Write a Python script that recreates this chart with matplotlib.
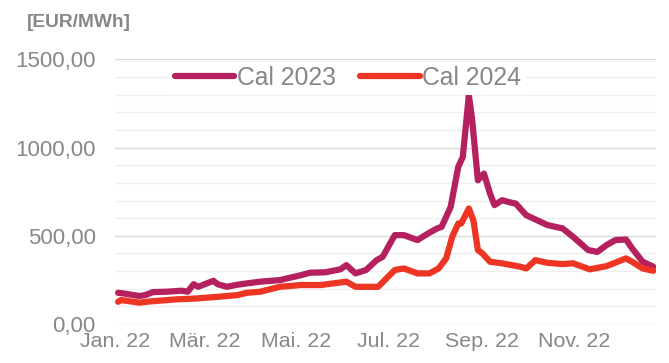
"""Strom-Terminpreise Cal 2023 / Cal 2024 im Verlauf von 2022."""

import matplotlib

matplotlib.use("Agg")
import matplotlib.dates as mdates
import matplotlib.pyplot as plt
import numpy as np
import pandas as pd
from matplotlib.ticker import FixedLocator, FuncFormatter

CAL23_DATES = [
    "2022-01-03", "2022-01-06", "2022-01-17", "2022-01-21", "2022-01-26",
    "2022-02-04", "2022-02-14", "2022-02-18", "2022-02-22", "2022-02-25",
    "2022-03-07", "2022-03-10", "2022-03-16", "2022-03-23", "2022-03-29",
    "2022-04-07", "2022-04-20", "2022-05-04", "2022-05-10", "2022-05-20",
    "2022-05-30", "2022-06-03", "2022-06-09", "2022-06-16", "2022-06-23",
    "2022-06-27", "2022-07-05", "2022-07-11", "2022-07-20", "2022-07-27",
    "2022-08-02", "2022-08-05", "2022-08-11", "2022-08-16", "2022-08-19",
    "2022-08-23", "2022-08-25", "2022-08-29", "2022-09-02", "2022-09-06",
    "2022-09-09", "2022-09-14", "2022-09-19", "2022-09-23", "2022-09-30",
    "2022-10-07", "2022-10-14", "2022-10-24", "2022-10-31", "2022-11-10",
    "2022-11-16", "2022-11-22", "2022-11-28", "2022-12-05", "2022-12-09",
    "2022-12-16", "2022-12-23",
]
CAL23_VALUES = [
    177, 174, 159, 164, 181,
    183, 189, 183, 226, 211,
    245, 225, 211, 223, 230,
    240, 249, 277, 291, 293,
    310, 334, 287, 306, 362,
    381, 504, 504, 476, 513,
    542, 551, 664, 891, 947,
    1297, 1174, 815, 853, 740,
    674, 702, 690, 683, 617,
    589, 561, 542, 494, 419,
    409, 447, 476, 479, 429,
    353, 325,
]

CAL24_DATES = [
    "2022-01-03", "2022-01-05", "2022-01-17", "2022-01-24", "2022-02-11",
    "2022-02-24", "2022-03-11", "2022-03-23", "2022-03-29", "2022-04-07",
    "2022-04-20", "2022-05-04", "2022-05-17", "2022-06-03", "2022-06-09",
    "2022-06-20", "2022-06-24", "2022-07-05", "2022-07-11", "2022-07-20",
    "2022-07-28", "2022-08-03", "2022-08-08", "2022-08-12", "2022-08-16",
    "2022-08-18", "2022-08-23", "2022-08-26", "2022-08-29", "2022-09-01",
    "2022-09-06", "2022-09-14", "2022-09-26", "2022-09-30", "2022-10-06",
    "2022-10-14", "2022-10-24", "2022-10-31", "2022-11-11", "2022-11-22",
    "2022-12-05", "2022-12-09", "2022-12-16", "2022-12-23",
]
CAL24_VALUES = [
    126, 136, 121, 128, 140,
    145, 155, 164, 177, 183,
    211, 221, 221, 240, 211,
    211, 211, 306, 315, 287,
    287, 315, 372, 494, 570,
    570, 655, 589, 419, 400,
    353, 344, 325, 315, 362,
    347, 340, 344, 310, 328,
    372, 353, 315, 302,
]

TICK_MONTHS = ["2022-01-01", "2022-03-01", "2022-05-01", "2022-07-01", "2022-09-01", "2022-11-01"]
TICK_LABELS = ["Jan. 22", "Mär. 22", "Mai. 22", "Jul. 22", "Sep. 22", "Nov. 22"]
SERIES_NAMES = ["Cal 2023", "Cal 2024"]

GREY = "#878787"
C23 = "#b5215e"
C24 = "#ee3524"

plt.rcParams["font.family"] = ["Liberation Sans", "DejaVu Sans"]

fig = plt.figure(figsize=(6.69, 3.63), dpi=100)
ax = fig.add_axes([0.172, 0.1074, 0.809, 0.7288])

ax.plot(pd.to_datetime(CAL23_DATES), CAL23_VALUES, color=C23, lw=4.5,
        solid_joinstyle="round", solid_capstyle="round", label=SERIES_NAMES[0], zorder=3)
ax.plot(pd.to_datetime(CAL24_DATES), CAL24_VALUES, color=C24, lw=4.5,
        solid_joinstyle="round", solid_capstyle="round", label=SERIES_NAMES[1], zorder=3)

ax.set_xlim(pd.Timestamp("2022-01-01"), pd.Timestamp("2022-12-25"))
ax.set_ylim(0, 1500)

ax.xaxis.set_major_locator(FixedLocator(mdates.date2num(pd.to_datetime(TICK_MONTHS))))
ax.set_xticklabels(TICK_LABELS)
ax.set_yticks(np.arange(0, 1501, 500))
ax.set_yticks(np.arange(0, 1501, 100), minor=True)
ax.yaxis.set_major_formatter(FuncFormatter(lambda v, _: f"{v:.2f}".replace(".", ",")))

ax.grid(axis="y", which="major", color="#d9d9d9", lw=1.0, zorder=0)
ax.grid(axis="y", which="minor", color="#efefef", lw=1.0, zorder=0)
ax.tick_params(axis="y", which="both", length=0, labelsize=16, labelcolor=GREY, pad=14)
ax.tick_params(axis="x", which="both", length=0, labelsize=15.4, labelcolor=GREY, pad=6)
for spine in ax.spines.values():
    spine.set_visible(False)

fig.text(0.04, 0.937, "[EUR/MWh]", fontsize=13.8, fontweight="bold", color=GREY,
         ha="left", va="center")

leg = ax.legend(loc="center left", bbox_to_anchor=(0.254, 0.785), bbox_transform=fig.transFigure,
                ncol=2, frameon=True, fontsize=17.8, handlelength=2.4, handletextpad=0.1,
                columnspacing=1.0, borderpad=0.2, borderaxespad=0)
leg.get_frame().set_facecolor("white")
leg.get_frame().set_edgecolor("none")
leg.get_frame().set_alpha(1.0)
for txt in leg.get_texts():
    txt.set_color(GREY)

fig.savefig("out.png", dpi=100, facecolor="white")
